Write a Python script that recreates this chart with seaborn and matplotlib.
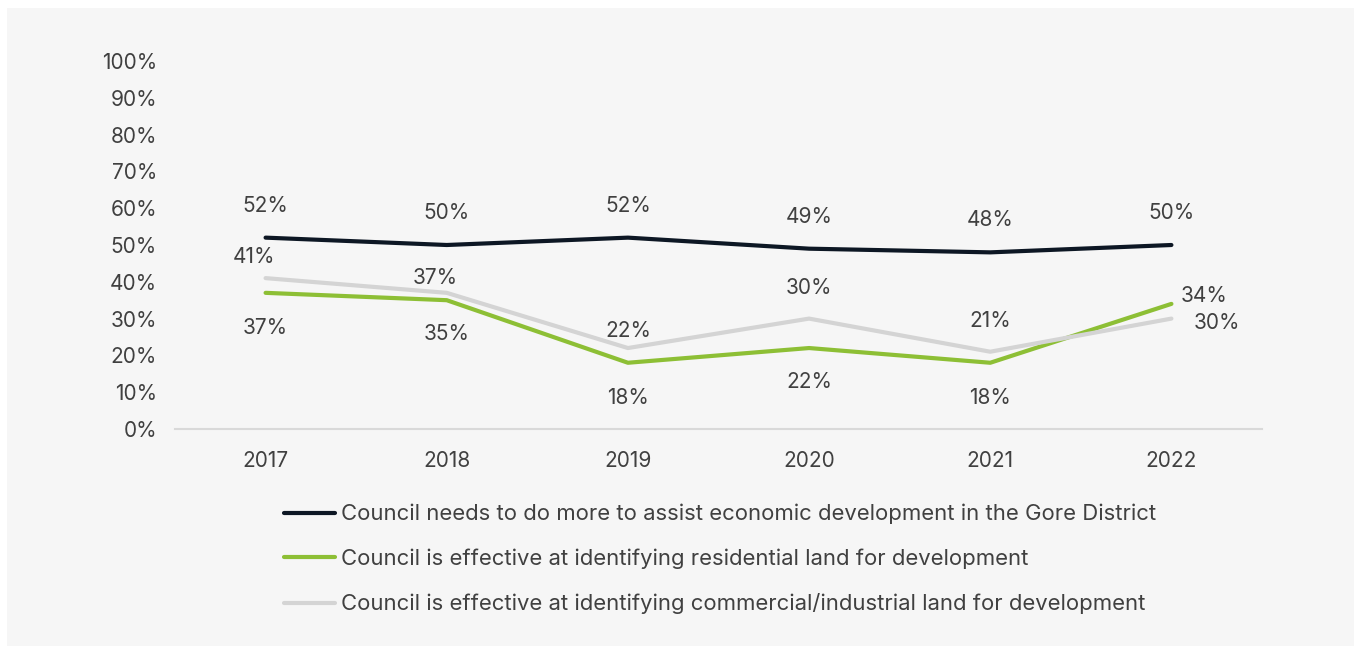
import matplotlib
matplotlib.use("Agg")
import matplotlib.pyplot as plt
import pandas as pd
import seaborn as sns

years = ["2017", "2018", "2019", "2020", "2021", "2022"]
economic = [52, 50, 52, 49, 48, 50]
residential = [37, 35, 18, 22, 18, 34]
commercial = [41, 37, 22, 30, 21, 30]

series_names = [
    "Council needs to do more to assist economic development in the Gore District",
    "Council is effective at identifying residential land for development",
    "Council is effective at identifying commercial/industrial land for development",
]
series_values = [economic, residential, commercial]
colors = ["#0d1724", "#8dbf35", "#d4d4d4"]
yticks = list(range(0, 101, 10))

# label offsets in pixels (dx, dy) relative to each point
label_offsets = [
    [(0, 32)] * 6,
    [(0, -35), (0, -34), (0, -35), (0, -34), (0, -35), (33, 8)],
    [(-12, 21), (-12, 15), (0, 17), (0, 31), (0, 31), (46, -4)],
]

rows = []
for name, vals in zip(series_names, series_values):
    for y, v in zip(years, vals):
        rows.append({"Year": y, "Value": v, "Series": name})
df = pd.DataFrame(rows)

sns.set_style("white")
plt.rcParams["font.family"] = ["Inter", "DejaVu Sans"]
text_color = "#404040"
bg = "#f6f6f6"

fig = plt.figure(figsize=(13.62, 6.53), dpi=100, facecolor="white")
# light panel behind the chart
fig.patches.append(plt.Rectangle((7 / 1362, 1 - 646 / 653), (1354 - 7) / 1362, (646 - 8) / 653,
                                 transform=fig.transFigure, facecolor=bg, edgecolor="none",
                                 zorder=-10))

ax = fig.add_axes([175 / 1362, 1 - 429 / 653, (1262 - 175) / 1362, (429 - 61) / 653])
ax.set_facecolor("none")

sns.lineplot(data=df, x="Year", y="Value", hue="Series", hue_order=series_names,
             palette=colors, linewidth=3, ax=ax, sort=False, legend=True)

ax.set_ylim(0, 100)
ax.set_xlim(-0.5, 5.5)
ax.set_yticks(yticks)
ax.set_yticklabels([f"{t}%" for t in yticks])
ax.set_xlabel("")
ax.set_ylabel("")
for s in ["top", "right", "left"]:
    ax.spines[s].set_visible(False)
ax.spines["bottom"].set_color("#d9d9d9")
ax.spines["bottom"].set_linewidth(1.5)
ax.tick_params(axis="y", length=0, pad=13, labelsize=15, labelcolor=text_color)
ax.tick_params(axis="x", length=0, pad=16, labelsize=15, labelcolor=text_color)

px = 0.72
for vals, offs in zip(series_values, label_offsets):
    for i, (v, (dx, dy)) in enumerate(zip(vals, offs)):
        ax.annotate(f"{v}%", xy=(i, v), xytext=(dx * px, dy * px), textcoords="offset points",
                    ha="center", va="center", fontsize=15, color=text_color)

handles, labels = ax.get_legend_handles_labels()
ax.legend(handles, labels, loc="upper left", bbox_to_anchor=(275 / 1362, 1 - 495 / 653),
          bbox_transform=fig.transFigure, frameon=False, fontsize=15.9, labelcolor=text_color,
          handlelength=2.3, handletextpad=0.3, labelspacing=1.1, borderaxespad=0)

fig.savefig("out.png", dpi=100, facecolor="white")
